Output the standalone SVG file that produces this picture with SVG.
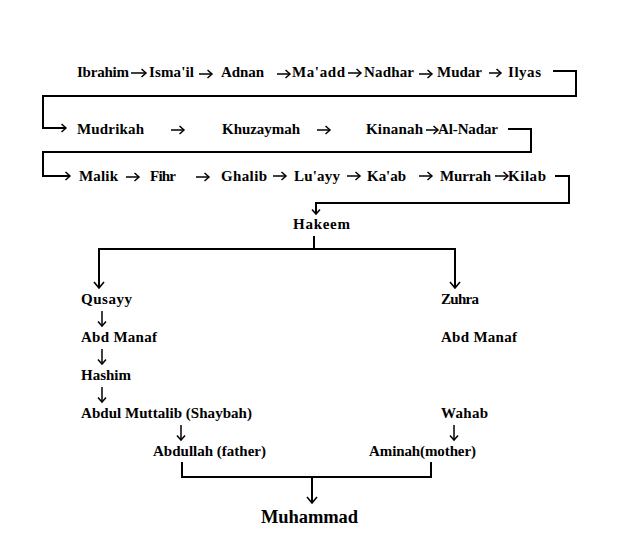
<svg xmlns="http://www.w3.org/2000/svg" width="620" height="544" viewBox="0 0 620 544">
<style>
text{font-family:"Liberation Serif","Times New Roman",serif;font-weight:bold;font-size:15px;fill:#000}
.big{font-size:18.5px}
.c{fill:none;stroke:#000;stroke-width:2}
.s{fill:none;stroke:#000;stroke-width:1.5}
</style>
<defs>
<marker id="ah" markerUnits="userSpaceOnUse" markerWidth="14" markerHeight="14" refX="7" refY="5" orient="auto" overflow="visible">
<path d="M1,0 L7,5 L1,10" fill="none" stroke="#000" stroke-width="1.6"/>
</marker>
<marker id="as" markerUnits="userSpaceOnUse" markerWidth="10" markerHeight="10" refX="5" refY="4" orient="auto" overflow="visible">
<path d="M0.5,0 L5,4 L0.5,8" fill="none" stroke="#000" stroke-width="1.5"/>
</marker>
</defs>
<rect width="620" height="544" fill="#fff"/>
<g id="connectors">
<path class="s" marker-end="url(#as)" d="M131,73 H146"/>
<path class="s" marker-end="url(#as)" d="M199,74 H212"/>
<path class="s" marker-end="url(#as)" d="M277,74 H290"/>
<path class="s" marker-end="url(#as)" d="M348,73 H361"/>
<path class="s" marker-end="url(#as)" d="M419,74 H432"/>
<path class="s" marker-end="url(#as)" d="M489,73 H501"/>
<path class="c" marker-end="url(#as)" d="M553,71 H576 V96 H43 V128 H66"/>
<path class="s" marker-end="url(#as)" d="M171,130 H184"/>
<path class="s" marker-end="url(#as)" d="M317,130 H330"/>
<path class="s" marker-end="url(#as)" d="M426,130 H438"/>
<path class="c" marker-end="url(#as)" d="M508,129 H531 V152 H43 V176 H70"/>
<path class="s" marker-end="url(#as)" d="M126,177 H139"/>
<path class="s" marker-end="url(#as)" d="M196,177 H209"/>
<path class="s" marker-end="url(#as)" d="M273,176 H286"/>
<path class="s" marker-end="url(#as)" d="M347,176 H360"/>
<path class="s" marker-end="url(#as)" d="M419,176 H432"/>
<path class="s" marker-end="url(#as)" d="M495,176 H508"/>
<path class="c" marker-end="url(#as)" d="M555,176 H569 V203 H316 V214"/>
<path class="c" d="M314,236 V249"/>
<path class="c" marker-end="url(#ah)" d="M314,249 H99 V288"/>
<path class="c" marker-end="url(#ah)" d="M314,249 H455 V288"/>
<path class="s" marker-end="url(#as)" d="M102,311 V326"/>
<path class="s" marker-end="url(#as)" d="M102,349 V364"/>
<path class="s" marker-end="url(#as)" d="M102,387 V402"/>
<path class="s" marker-end="url(#as)" d="M181,425 V440"/>
<path class="s" marker-end="url(#as)" d="M454,425 V440"/>
<path class="c" d="M182,462 V477 H431 V462"/>
<path class="c" marker-end="url(#ah)" d="M312,477 V503"/>
</g>
<g id="n-ibrahim"><text x="77" y="77" textLength="52">Ibrahim</text></g>
<g id="n-ismail"><text x="149" y="77" textLength="45">Isma'il</text></g>
<g id="n-adnan"><text x="221" y="77" textLength="43">Adnan</text></g>
<g id="n-maadd"><text x="292" y="77" textLength="53">Ma'add</text></g>
<g id="n-nadhar"><text x="364" y="77" textLength="50">Nadhar</text></g>
<g id="n-mudar"><text x="437" y="77" textLength="45">Mudar</text></g>
<g id="n-ilyas"><text x="508" y="77" textLength="33">Ilyas</text></g>
<g id="n-mudrikah"><text x="77" y="134" textLength="67">Mudrikah</text></g>
<g id="n-khuzaymah"><text x="222" y="134" textLength="78">Khuzaymah</text></g>
<g id="n-kinanah"><text x="366" y="134" textLength="57">Kinanah</text></g>
<g id="n-alnadar"><text x="438" y="134" textLength="60">Al-Nadar</text></g>
<g id="n-malik"><text x="79" y="181" textLength="39">Malik</text></g>
<g id="n-fihr"><text x="150" y="181" textLength="26">Fihr</text></g>
<g id="n-ghalib"><text x="221" y="181" textLength="46">Ghalib</text></g>
<g id="n-luayy"><text x="294" y="181" textLength="46">Lu'ayy</text></g>
<g id="n-kaab"><text x="367" y="181" textLength="39">Ka'ab</text></g>
<g id="n-murrah"><text x="440" y="181" textLength="51">Murrah</text></g>
<g id="n-kilab"><text x="508" y="181" textLength="38">Kilab</text></g>
<g id="n-hakeem"><text x="293" y="229" textLength="57">Hakeem</text></g>
<g id="n-qusayy"><text x="81" y="304" textLength="51">Qusayy</text></g>
<g id="n-zuhra"><text x="441" y="304" textLength="38">Zuhra</text></g>
<g id="n-abdmanaf-l"><text x="81" y="342" textLength="76">Abd Manaf</text></g>
<g id="n-abdmanaf-r"><text x="441" y="342" textLength="76">Abd Manaf</text></g>
<g id="n-hashim"><text x="81" y="380" textLength="50">Hashim</text></g>
<g id="n-abdulmuttalib"><text x="81" y="418" textLength="171">Abdul Muttalib (Shaybah)</text></g>
<g id="n-wahab"><text x="441" y="418" textLength="47">Wahab</text></g>
<g id="n-abdullah"><text x="153" y="456" textLength="113">Abdullah (father)</text></g>
<g id="n-aminah"><text x="369" y="456" textLength="107">Aminah(mother)</text></g>
<g id="n-muhammad"><text class="big" x="261" y="523" textLength="97">Muhammad</text></g>
</svg>
